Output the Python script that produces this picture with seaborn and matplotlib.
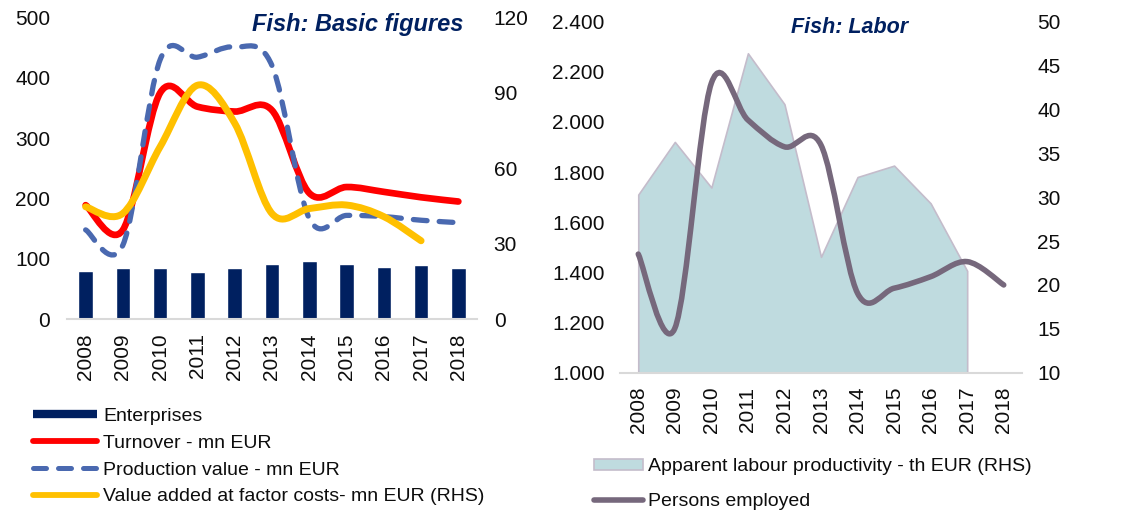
import numpy as np
import pandas as pd
import matplotlib
matplotlib.use("Agg")
import matplotlib.pyplot as plt
import seaborn as sns
from matplotlib.path import Path
from matplotlib.patches import PathPatch, Patch
from matplotlib.lines import Line2D
from matplotlib.ticker import FuncFormatter

# ---------------- data ----------------
years = ["2008", "2009", "2010", "2011", "2012", "2013", "2014", "2015", "2016", "2017", "2018"]
enterprises = [80, 85, 85, 78, 85, 92, 97, 92, 87, 90, 85]
turnover = [189, 148, 375, 352, 344, 346, 209, 219, 211, 202, 195]
production_value = [148, 123, 430, 434, 451, 420, 167, 172, 170, 164, 160]
value_added = [44.7, 42.1, 68.6, 93.0, 77.9, 42.0, 44.0, 45.4, 40.8, 31.2]          # RHS, 2008-2017
labour_productivity = [30.3, 36.3, 31.1, 46.4, 40.6, 23.2, 32.3, 33.6, 29.3, 21.6]  # RHS, 2008-2017
persons_employed = [1473, 1177, 2155, 2008, 1901, 1908, 1317, 1337, 1383, 1443, 1350]

left_ticks = [0, 100, 200, 300, 400, 500]
left_rticks = [0, 30, 60, 90, 120]
right_ticks = [1000, 1200, 1400, 1600, 1800, 2000, 2200, 2400]
right_rticks = [10, 15, 20, 25, 30, 35, 40, 45, 50]

# ---------------- style ----------------
sns.set_theme(style="white")
plt.rcParams["font.family"] = ["Liberation Sans", "DejaVu Sans"]
FS = 15
LFS = 14
TXT = "#0D0D0D"
NAVY = "#002060"


def smooth_patch(ax, xs, ys, color, lw, ls="-", zorder=3):
    """Excel-like smoothed line drawn as a cubic Bezier path in data coords."""
    n = len(xs)
    verts = [(xs[0], ys[0])]
    codes = [Path.MOVETO]
    for i in range(n - 1):
        p0 = i - 1 if i > 0 else i
        p3 = i + 2 if i + 2 < n else i + 1
        c1 = (xs[i] + (xs[i + 1] - xs[p0]) / 6.0, ys[i] + (ys[i + 1] - ys[p0]) / 6.0)
        c2 = (xs[i + 1] - (xs[p3] - xs[i]) / 6.0, ys[i + 1] - (ys[p3] - ys[i]) / 6.0)
        verts += [c1, c2, (xs[i + 1], ys[i + 1])]
        codes += [Path.CURVE4] * 3
    patch = PathPatch(Path(verts, codes), fill=False, edgecolor=color, lw=lw,
                      linestyle=ls, capstyle="round", joinstyle="round", zorder=zorder)
    ax.add_patch(patch)
    return patch


def style_axis(ax, pad_y=13):
    for s in ["top", "right", "left"]:
        ax.spines[s].set_visible(False)
    ax.spines["bottom"].set_color("#D9D9D9")
    ax.spines["bottom"].set_linewidth(1.5)
    ax.tick_params(axis="both", length=0, labelsize=FS, colors=TXT)
    ax.tick_params(axis="y", pad=pad_y)
    ax.tick_params(axis="x", pad=10, rotation=90)
    ax.grid(False)


fig = plt.figure(figsize=(11.27, 5.11), dpi=100)
W, H = 1127.0, 511.0

# ================= left chart =================
ax1 = fig.add_axes([67 / W, 1 - 319.3 / H, 410 / W, 302 / H])
df = pd.DataFrame({"year": years, "Enterprises": enterprises})
sns.barplot(data=df, x="year", y="Enterprises", ax=ax1, color=NAVY, saturation=1,
            width=0.39, zorder=1)
x_all = np.arange(len(years), dtype=float)
smooth_patch(ax1, x_all, turnover, "#FF0000", 4.8, zorder=3)
smooth_patch(ax1, x_all, production_value, "#4A69B0", 3.8, ls=(0, (2.6, 2.3)), zorder=4)
ax1.set_xlim(-0.5, 10.5)
ax1.set_ylim(0, 500)
ax1.set_yticks(left_ticks)
ax1.set_xlabel("")
ax1.set_ylabel("")
style_axis(ax1, pad_y=12)

ax2 = ax1.twinx()
smooth_patch(ax2, x_all[:len(value_added)], value_added, "#FFC000", 5.0, zorder=5)
ax2.set_ylim(0, 120)
ax2.set_yticks(left_rticks)
for s in ["top", "right", "left", "bottom"]:
    ax2.spines[s].set_visible(False)
ax2.tick_params(axis="y", length=0, labelsize=FS, colors=TXT, pad=12)
ax2.grid(False)

fig.text(463 / W, 1 - 25 / H, "Fish: Basic figures", ha="right", va="center",
         fontsize=17, fontweight="bold", fontstyle="italic", color=NAVY, zorder=10)

h1 = [Line2D([], [], color=NAVY, lw=6, solid_capstyle="butt"),
      Line2D([], [], color="#FF0000", lw=4.2, solid_capstyle="round"),
      Line2D([], [], color="#4A69B0", lw=3.6, linestyle=(0, (2.6, 2.4)), dash_capstyle="round"),
      Line2D([], [], color="#FFC000", lw=4.2, solid_capstyle="round")]
l1 = ["Enterprises", "Turnover - mn EUR", "Production value - mn EUR",
      "Value added at factor costs- mn EUR (RHS)"]
fig.legend(h1, l1, loc="upper left", bbox_to_anchor=(33 / W, 1 - 407 / H), frameon=False,
           fontsize=LFS, handlelength=3.3, handletextpad=0.3, labelspacing=0.48,
           borderaxespad=0, borderpad=0, labelcolor=TXT)

# ================= right chart =================
ax3 = fig.add_axes([620 / W, 1 - 372.7 / H, 402 / W, 351 / H])
ax4 = ax3.twinx()
ax3.set_zorder(ax4.get_zorder() + 1)
ax3.patch.set_visible(False)

xp = x_all[:len(labour_productivity)]
ax4.fill_between(xp, 10, labour_productivity, facecolor="#BFDBDF", edgecolor="#C4BCCB",
                 lw=1.2, zorder=1)
ax4.set_ylim(10, 50)
ax4.set_yticks(right_rticks)
for s in ["top", "right", "left", "bottom"]:
    ax4.spines[s].set_visible(False)
ax4.tick_params(axis="y", length=0, labelsize=FS, colors=TXT, pad=11)
ax4.grid(False)

smooth_patch(ax3, x_all, persons_employed, "#76687C", 4.0, zorder=3)
ax3.set_xlim(-0.5, 10.5)
ax3.set_ylim(1000, 2400)
ax3.set_yticks(right_ticks)
ax3.set_xticks(x_all)
ax3.set_xticklabels(years)
ax3.yaxis.set_major_formatter(FuncFormatter(lambda v, p: f"{int(v):,}".replace(",", ".")))
style_axis(ax3, pad_y=11)

fig.text(850 / W, 1 - 27 / H, "Fish: Labor", ha="center", va="center",
         fontsize=15.5, fontweight="bold", fontstyle="italic", color=NAVY, zorder=10)

h2 = [Patch(facecolor="#BFDBDF", edgecolor="#C4BCCB", lw=1.2),
      Line2D([], [], color="#76687C", lw=4.0, solid_capstyle="round")]
l2 = ["Apparent labour productivity - th EUR (RHS)", "Persons employed"]
fig.legend(h2, l2, loc="upper left", bbox_to_anchor=(594 / W, 1 - 458 / H), frameon=False,
           fontsize=LFS, handlelength=2.5, handleheight=0.5, handletextpad=0.3, labelspacing=0.95,
           borderaxespad=0, borderpad=0, labelcolor=TXT)

fig.savefig("out.png", dpi=100)
